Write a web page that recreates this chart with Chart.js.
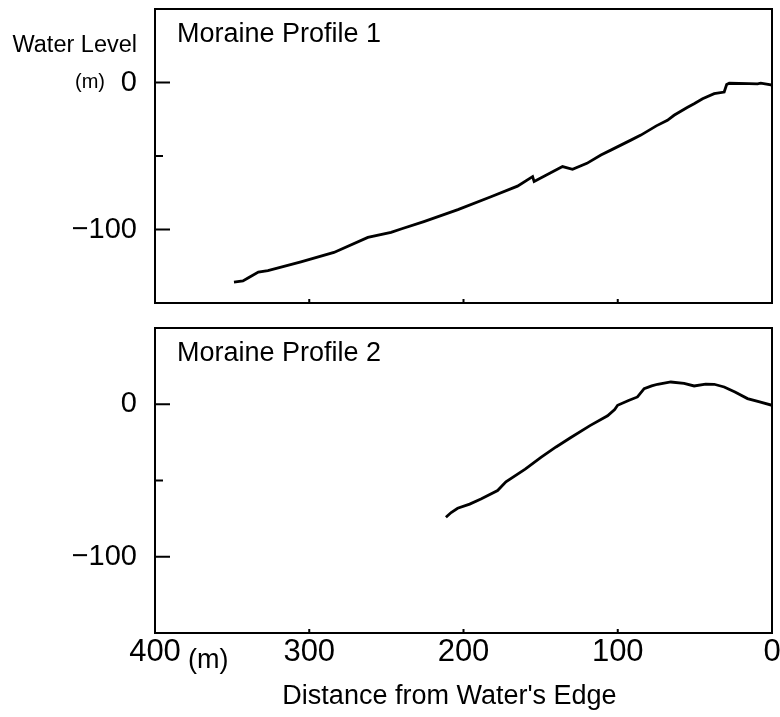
<!DOCTYPE html>
<html>
<head>
<meta charset="utf-8">
<script src="https://cdn.jsdelivr.net/npm/chart.js@4.4.1/dist/chart.umd.min.js"></script>
<style>
body { margin: 0; background: #fff; }
#wrap { position: relative; width: 780px; height: 717px; }
.box { position: absolute; left: 0; width: 780px; }
</style>
</head>
<body>
<div id="wrap">
  <div class="box" style="top:0;height:310px"><canvas id="profile1"></canvas></div>
  <div class="box" style="top:318px;height:399px"><canvas id="profile2"></canvas></div>
</div>
<script>
// distance from water's edge (m) and level (m)
const dist1 = [348.8, 343, 339.7, 333, 326.8, 305.4, 284, 262, 247, 240, 225.7, 203.6, 182.2, 165,
  155.2, 154.2, 135.8, 129.3, 120, 110.9, 104.5, 91.5, 85, 75, 67.8, 63.5, 55, 50.5, 45, 37.5,
  31, 29.4, 27.7, 15, 9.4, 7.3, 0.7, 0];
const level1 = [-135.8, -135, -133, -129, -128, -122, -115.6, -105.4, -102, -99.5, -94.6, -86.5, -77.7, -70.5,
  -64, -67.4, -57.2, -59, -55, -49.3, -46, -39.2, -35.8, -29.5, -25.7, -22.3, -17, -14.4, -11, -7.6,
  -6.5, -1.4, -0.5, -0.8, -0.9, -0.5, -1.6, -2];

const dist2 = [211.4, 208, 203.8, 196, 188.7, 177.9, 172.5, 160, 149.8, 140, 130.4, 118, 106.6, 102, 100.1,
  93, 87.2, 82.9, 78, 74.2, 65.6, 57, 50.5, 43, 37.5, 31, 24, 15.9, 8, 0];
const level2 = [-74.1, -71, -68.2, -65.5, -62.1, -56.6, -50.8, -42.5, -34.8, -28, -21.8, -14, -7.6, -3.5, -0.7,
  2.5, 4.8, 10.2, 12, 13.1, 14.6, 13.7, 12, 13.2, 13.1, 11.3, 8, 3.7, 1.5, -0.7];

const xTicks = [400, 300, 200, 100, 0];
const yTicks = [50, 0, -50, -100, -150];
const yLabels = { '0': '0', '-100': '\u2212100' };

const FONT = '"Liberation Sans", Arial, Helvetica, sans-serif';
Chart.defaults.color = '#000';
Chart.defaults.font.family = FONT;

const toPoints = (xs, ys) => xs.map((x, i) => ({ x: x, y: ys[i] }));

const decor = {
  id: 'decor',
  afterDatasetsDraw(chart, args, opts) {
    const { ctx, chartArea: a, scales } = chart;
    ctx.save();
    ctx.strokeStyle = '#000';
    ctx.lineWidth = 2;
    ctx.strokeRect(a.left, a.top, a.right - a.left, a.bottom - a.top);
    // inward tick marks
    ctx.beginPath();
    yTicks.forEach(v => {
      const py = scales.y.getPixelForValue(v);
      const len = v % 100 === 0 ? 15 : 8;
      ctx.moveTo(a.left, py);
      ctx.lineTo(a.left + len, py);
    });
    xTicks.forEach(v => {
      const px = scales.x.getPixelForValue(v);
      ctx.moveTo(px, a.bottom);
      ctx.lineTo(px, a.bottom - 4);
    });
    ctx.stroke();

    ctx.fillStyle = '#000';
    ctx.textBaseline = 'middle';
    ctx.textAlign = 'left';
    ctx.font = '27px ' + FONT;
    ctx.fillText(opts.title, a.left + 22, a.top + 26);
    if (opts.top) {
      ctx.textAlign = 'right';
      ctx.font = '23.5px ' + FONT;
      ctx.fillText('Water Level', 137, 46);
      ctx.font = '20px ' + FONT;
      ctx.fillText('(m)', 105, scales.y.getPixelForValue(0));
    } else {
      ctx.textAlign = 'left';
      ctx.font = '27px ' + FONT;
      ctx.fillText('(m)', 188, a.bottom + 28);
      ctx.textAlign = 'center';
      ctx.fillText('Distance from Water\'s Edge', (a.left + a.right) / 2 - 14, a.bottom + 64);
    }
    ctx.restore();
  }
};

function makeChart(id, xs, ys, title, isTop) {
  return new Chart(document.getElementById(id), {
    type: 'line',
    data: {
      datasets: [{
        data: toPoints(xs, ys),
        borderColor: '#000',
        borderWidth: 2.8,
        pointRadius: 0,
        tension: 0,
        fill: false
      }]
    },
    options: {
      responsive: true,
      maintainAspectRatio: false,
      animation: false,
      layout: {
        autoPadding: false,
        padding: isTop ? { top: 9, right: 8, bottom: 7, left: 0 } : { top: 10, right: 8, bottom: 0, left: 0 }
      },
      plugins: {
        legend: { display: false },
        tooltip: { enabled: false },
        decor: { title: title, top: isTop }
      },
      scales: {
        x: {
          type: 'linear',
          reverse: true,
          min: 0,
          max: 400,
          display: !isTop,
          grid: { display: false, drawTicks: false },
          border: { display: false },
          afterBuildTicks: s => { s.ticks = xTicks.map(v => ({ value: v })); },
          afterFit: s => {
            s.height = isTop ? 0 : 84;
            s.paddingLeft = 0; s.paddingRight = 0;
          },
          ticks: {
            font: { size: 31 },
            padding: 1,
            maxRotation: 0,
            autoSkip: false
          }
        },
        y: {
          min: -150,
          max: 50,
          grid: { display: false, drawTicks: false },
          border: { display: false },
          afterBuildTicks: s => { s.ticks = yTicks.map(v => ({ value: v })); },
          afterFit: s => {
            s.width = 155;
            s.paddingTop = 0; s.paddingBottom = 0;
          },
          ticks: {
            font: { size: 29 },
            padding: 18,
            callback: v => yLabels[String(v)] || ''
          }
        }
      }
    },
    plugins: [decor]
  });
}

makeChart('profile1', dist1, level1, 'Moraine Profile 1', true);
makeChart('profile2', dist2, level2, 'Moraine Profile 2', false);
</script>
</body>
</html>
